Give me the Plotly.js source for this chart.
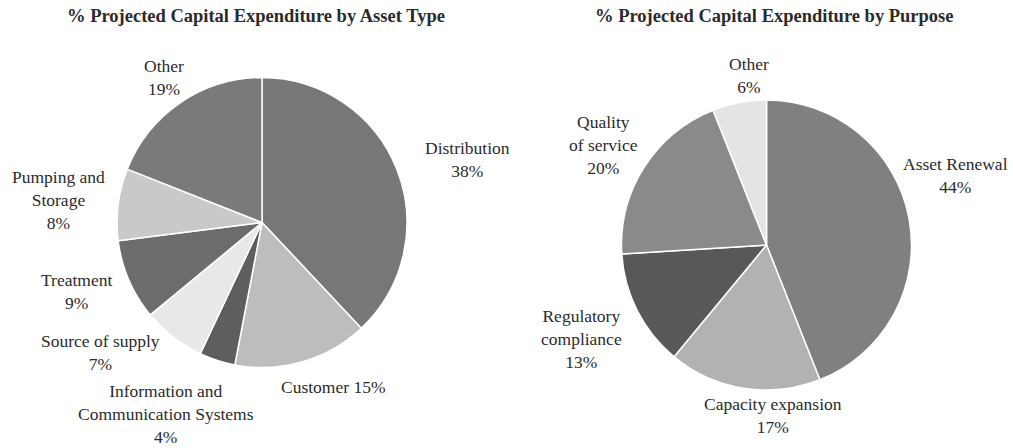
<!DOCTYPE html>
<html><head><meta charset="utf-8">
<script src="https://cdn.plot.ly/plotly-3.0.1.min.js"></script>
<style>html,body{margin:0;padding:0;background:#fff}#chart{width:1013px;height:448px}</style>
</head><body><div id="chart"></div>
<script>
// ---- Data ----
const assetCategories = ["Distribution", "Customer", "Information and Communication Systems", "Source of supply", "Treatment", "Pumping and Storage", "Other"];
const assetValues = [38, 15, 4, 7, 9, 8, 19];
// display wrapping of each category name, and separator before the percent
const assetDisplayNames = ["Distribution", "Customer", "Information and<br>Communication Systems", "Source of supply", "Treatment", "Pumping and<br>Storage", "Other"];
const assetSeparators = ["<br>", " ", "<br>", "<br>", "<br>", "<br>", "<br>"];

const purposeCategories = ["Asset Renewal", "Capacity expansion", "Regulatory compliance", "Quality of service", "Other"];
const purposeValues = [44, 17, 13, 20, 6];
const purposeDisplayNames = ["Asset Renewal", "Capacity expansion", "Regulatory<br>compliance", "Quality<br>of service", "Other"];
const purposeSeparators = ["<br>", "<br>", "<br>", "<br>", "<br>"];

// ---- Styles / layout ----
const assetColors = ["#777777", "#bdbdbd", "#5e5e5e", "#e8e8e8", "#6c6c6c", "#c9c9c9", "#7a7a7a"];
const purposeColors = ["#808080", "#b2b2b2", "#585858", "#8a8a8a", "#e4e4e4"];
// label block centres in pixels (layout placement of the data labels)
const assetLabelPos = [[467, 159], [333, 387], [166, 414], [100, 352], [76, 291], [58, 200], [164, 77]];
const purposeLabelPos = [[955, 176], [773, 415], [581, 339], [603, 145], [749, 75]];

const W = 1013, H = 448;
function dom(cx, cy, r) {
  return {x: [(cx - r) / W, (cx + r) / W], y: [1 - (cy + r) / H, 1 - (cy - r) / H]};
}
const serif = "Liberation Serif, Times New Roman, serif";
const labelFont = {family: serif, size: 17.5, color: "#2b2b2b"};
const titleFont = {family: serif, size: 18.5, color: "#2b2b2b"};

const traces = [
  {
    type: "pie", labels: assetCategories, values: assetValues,
    sort: false, direction: "clockwise", rotation: 0,
    textinfo: "none", hoverinfo: "label+value",
    marker: {colors: assetColors, line: {color: "#ffffff", width: 1.5}},
    domain: dom(262, 222.5, 145), showlegend: false
  },
  {
    type: "pie", labels: purposeCategories, values: purposeValues,
    sort: false, direction: "clockwise", rotation: 0,
    textinfo: "none", hoverinfo: "label+value",
    marker: {colors: purposeColors, line: {color: "#ffffff", width: 1.5}},
    domain: dom(766.5, 245, 145), showlegend: false
  }
];

function labelAnnotations(names, seps, values, pos) {
  return names.map((n, i) => ({
    text: n + seps[i] + values[i] + "%",
    x: pos[i][0] / W, y: 1 - pos[i][1] / H,
    xref: "paper", yref: "paper", xanchor: "center", yanchor: "middle",
    showarrow: false, align: "center", font: labelFont, borderpad: 0
  }));
}

const annotations = [
  {text: "<b>% Projected Capital Expenditure by Asset Type</b>", x: 256 / W, y: 1 - 15.5 / H, xref: "paper", yref: "paper", showarrow: false, font: titleFont, xanchor: "center", yanchor: "middle"},
  {text: "<b>% Projected Capital Expenditure by Purpose</b>", x: 774 / W, y: 1 - 15.5 / H, xref: "paper", yref: "paper", showarrow: false, font: titleFont, xanchor: "center", yanchor: "middle"}
].concat(
  labelAnnotations(assetDisplayNames, assetSeparators, assetValues, assetLabelPos),
  labelAnnotations(purposeDisplayNames, purposeSeparators, purposeValues, purposeLabelPos)
);

const layout = {
  width: W, height: H, margin: {l: 0, r: 0, t: 0, b: 0},
  paper_bgcolor: "#fff", showlegend: false, annotations: annotations
};
Plotly.newPlot("chart", traces, layout, {staticPlot: true});
</script></body></html>
